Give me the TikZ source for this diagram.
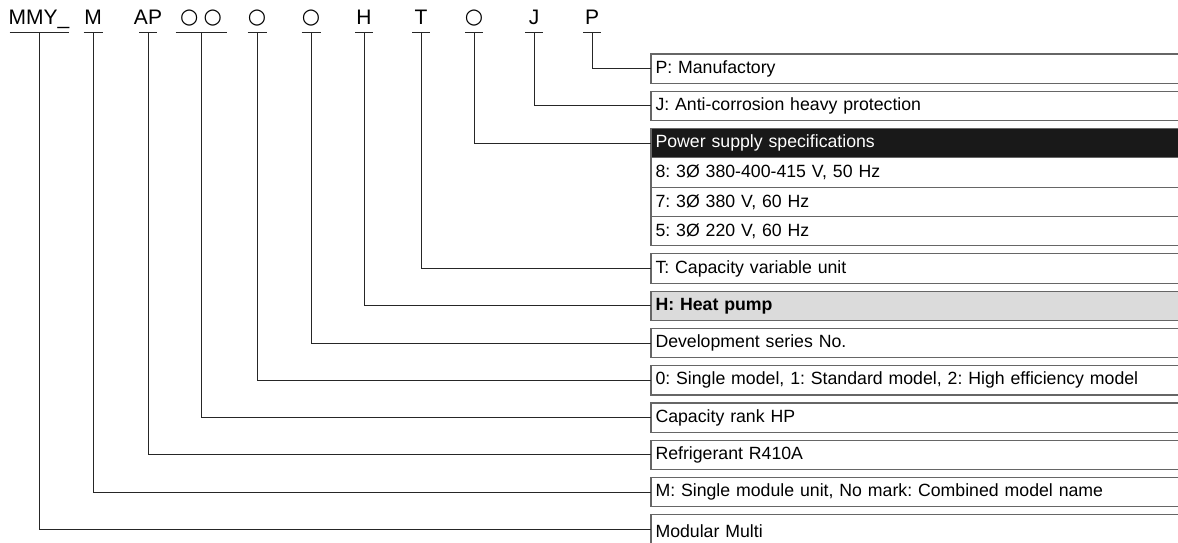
\documentclass[tikz,border=0pt]{standalone}
\usepackage{fontspec}
\setmainfont{Liberation Sans}
\newfontfamily\circfont{DejaVu Sans}
\usetikzlibrary{positioning}
\frenchspacing

\begin{document}
\begin{tikzpicture}[x=1pt,y=-1pt]
% Default looks of the code letters, the boxes and the leader lines
\tikzstyle{uline} = [draw=black!85, line width=1pt]
\tikzset{code/.style={font=\fontsize{21}{24}\selectfont, inner sep=0pt, text depth=7.3pt, anchor=south,
  append after command={([xshift=-0.5*#1]\tikzlastnode.south) edge[uline] ([xshift=0.5*#1]\tikzlastnode.south)}}}
\tikzstyle{circ} = [font=\circfont\fontsize{21}{24}\selectfont]
\tikzstyle{entry} = [draw=black!60, line width=1.1pt, outer sep=0pt, anchor=north west, minimum height=29.3pt,
  text width=551pt, inner xsep=4.5pt, font=\fontsize{17.7}{20}\selectfont]
\tikzstyle{head} = [entry, fill=black!90, text=white]
\tikzstyle{hilite} = [entry, fill=black!14, font=\fontsize{17.7}{20}\selectfont\bfseries]
\tikzstyle{link} = [draw=black!85, line width=1pt]
\useasboundingbox (0,0) rectangle (1178,543);
% Letters of the model name
\node [code=59] (cMMY) at (39,32.3) {MMY\_};
\node [code=19] (cM) at (93,32.3) {M};
\node [code=18] (cAP) at (148,32.3) {AP};
\node [code=51, circ] (cCap) at (201,32.3) {\raisebox{1.5pt}{○\hspace{5pt}○}};
\node [code=19, circ] (cSer) at (257,32.3) {\raisebox{1.5pt}{○}};
\node [code=19, circ] (cDev) at (311,32.3) {\raisebox{1.5pt}{○}};
\node [code=18] (cH) at (364,32.3) {H};
\node [code=18] (cT) at (421,32.3) {T};
\node [code=18, circ] (cPow) at (474,32.3) {\raisebox{1.5pt}{○}};
\node [code=18] (cJ) at (534,32.3) {J};
\node [code=18] (cP) at (592,32.3) {P};
% Meaning of each letter
\node [entry] (bP) at (651,54) {P: Manufactory};
\node [entry] (bJ) at (651,91.3) {J: Anti-corrosion heavy protection};
\node [head] (bPow) at (651,128.6) {Power supply specifications};
\node [entry, below=0pt of bPow] (bPow8) {8: 3Ø 380-400-415 V, 50 Hz};
\node [entry, below=0pt of bPow8] (bPow7) {7: 3Ø 380 V, 60 Hz};
\node [entry, below=0pt of bPow7] (bPow5) {5: 3Ø 220 V, 60 Hz};
\node [entry] (bT) at (651,253.8) {T: Capacity variable unit};
\node [hilite] (bH) at (651,291.1) {H: Heat pump};
\node [entry] (bDev) at (651,328.4) {Development series No.};
\node [entry] (bSer) at (651,365.7) {0: Single model, 1: Standard model, 2: High efficiency model};
\node [entry] (bCap) at (651,403) {Capacity rank HP};
\node [entry] (bAP) at (651,440.3) {Refrigerant R410A};
\node [entry] (bM) at (651,477.6) {M: Single module unit, No mark: Combined model name};
\node [entry, minimum height=36pt] (bMMY) at (651,514.9) {\raisebox{3.4pt}{Modular Multi}};
% Leader lines
\draw [link] (cP.south) |- (bP.west);
\draw [link] (cJ.south) |- (bJ.west);
\draw [link] (cPow.south) |- (bPow.west);
\draw [link] (cT.south) |- (bT.west);
\draw [link] (cH.south) |- (bH.west);
\draw [link] (cDev.south) |- (bDev.west);
\draw [link] (cSer.south) |- (bSer.west);
\draw [link] (cCap.south) |- (bCap.west);
\draw [link] (cAP.south) |- (bAP.west);
\draw [link] (cM.south) |- (bM.west);
\draw [link] (cMMY.south) |- ([yshift=3.4pt]bMMY.west);
\end{tikzpicture}
\end{document}
